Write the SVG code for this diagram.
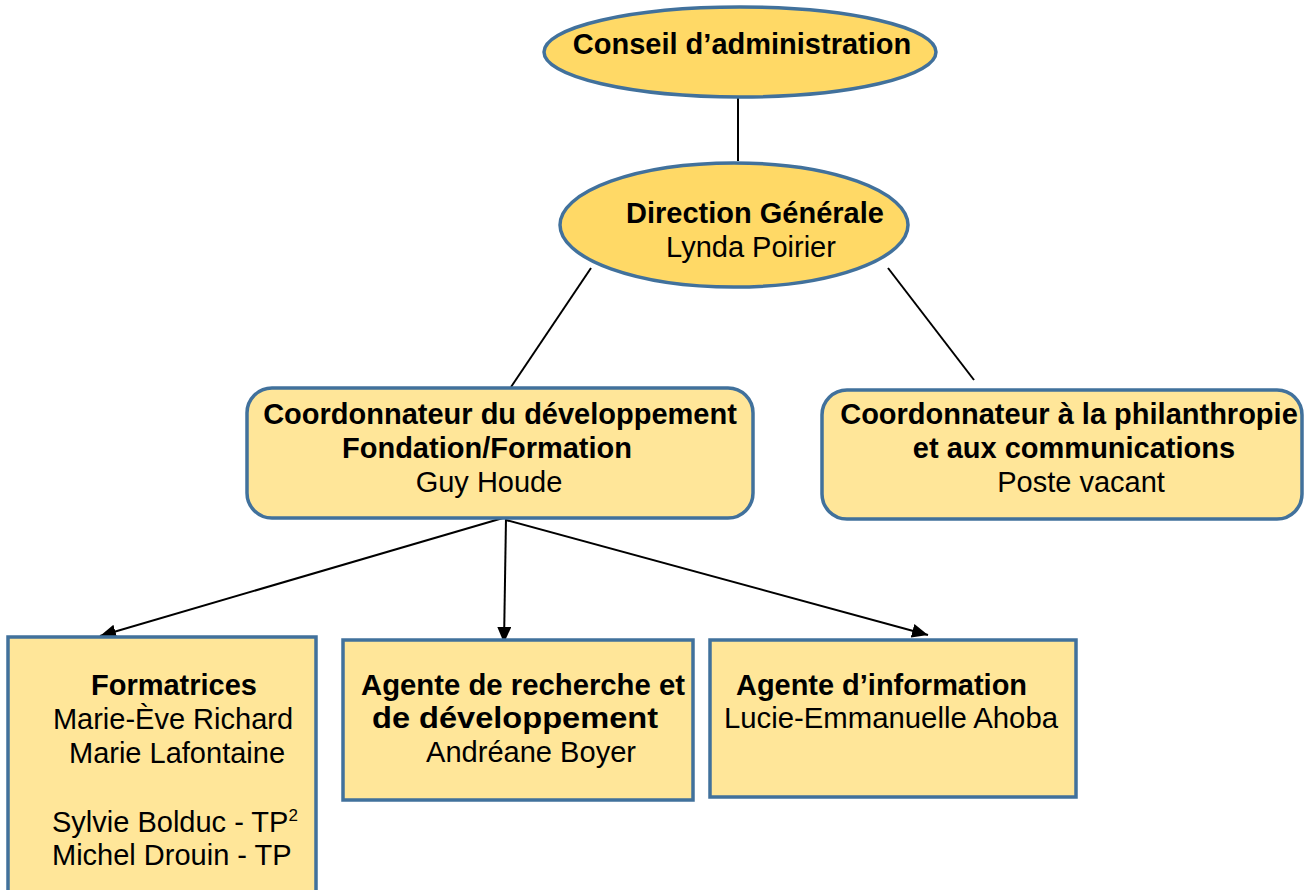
<svg xmlns="http://www.w3.org/2000/svg" width="1306" height="890" viewBox="0 0 1306 890">
<style>
.oval{fill:#FFD966;stroke:#41719C;stroke-width:3.5}
.rbox{fill:#FFE699;stroke:#41719C;stroke-width:3.5}
.sbox{fill:#FFE699;stroke:#41719C;stroke-width:3.5}
.b{font-family:"Liberation Sans",Arial,sans-serif;font-weight:bold;font-size:29px;fill:#000}
.r{font-family:"Liberation Sans",Arial,sans-serif;font-size:29px;fill:#000}
.c{text-anchor:middle}
.ln{stroke:#000;stroke-width:2;fill:none}
</style>
<defs>
<marker id="arr" viewBox="0 0 16 14" refX="16" refY="7" markerWidth="16" markerHeight="14" orient="auto" markerUnits="userSpaceOnUse">
<path d="M0,0 L16,7 L0,14 z" fill="#000"/>
</marker>
</defs>
<g id="connectors">
<line class="ln" x1="738" y1="97" x2="738" y2="161"/>
<line class="ln" x1="591" y1="268" x2="511" y2="387"/>
<line class="ln" x1="888" y1="268" x2="974" y2="380"/>
<line class="ln" x1="503" y1="518" x2="100" y2="636" marker-end="url(#arr)"/>
<line class="ln" x1="506" y1="518" x2="504" y2="643" marker-end="url(#arr)"/>
<line class="ln" x1="506" y1="520" x2="928" y2="635" marker-end="url(#arr)"/>
</g>
<g id="conseil">
<ellipse class="oval" cx="740" cy="52" rx="196" ry="45"/>
<text class="b c" x="742" y="54">Conseil d’administration</text>
</g>
<g id="direction">
<ellipse class="oval" cx="734" cy="225" rx="174" ry="62"/>
<text class="b c" x="755" y="223">Direction Générale</text>
<text class="r c" x="751" y="257">Lynda Poirier</text>
</g>
<g id="coord-dev">
<rect class="rbox" x="247" y="388" width="506" height="130" rx="25"/>
<text class="b c" x="500" y="424">Coordonnateur du développement</text>
<text class="b c" x="487" y="458">Fondation/Formation</text>
<text class="r c" x="489" y="492">Guy Houde</text>
</g>
<g id="coord-phil">
<rect class="rbox" x="822" y="390" width="480" height="129" rx="25"/>
<text class="b c" x="1069" y="424">Coordonnateur à la philanthropie</text>
<text class="b c" x="1074" y="458">et aux communications</text>
<text class="r c" x="1081" y="492">Poste vacant</text>
</g>
<g id="formatrices">
<rect class="sbox" x="8" y="637" width="308" height="270"/>
<text class="b c" x="174" y="695">Formatrices</text>
<text class="r c" x="173" y="729">Marie-Ève Richard</text>
<text class="r c" x="177" y="763">Marie Lafontaine</text>
<text class="r" x="52" y="832">Sylvie Bolduc - TP<tspan font-size="17" dy="-11">2</tspan></text>
<text class="r" x="52" y="865">Michel Drouin - TP</text>
</g>
<g id="agente-rd">
<rect class="sbox" x="343" y="640" width="350" height="160"/>
<text class="b" x="361" y="695" textLength="324" lengthAdjust="spacingAndGlyphs">Agente de recherche et</text>
<text class="b" x="372" y="728" textLength="286" lengthAdjust="spacingAndGlyphs">de développement</text>
<text class="r" x="426" y="762" textLength="210" lengthAdjust="spacingAndGlyphs">Andréane Boyer</text>
</g>
<g id="agente-info">
<rect class="sbox" x="710" y="640" width="366" height="157"/>
<text class="b" x="736" y="695" textLength="291" lengthAdjust="spacingAndGlyphs">Agente d’information</text>
<text class="r" x="724" y="728" textLength="334" lengthAdjust="spacingAndGlyphs">Lucie-Emmanuelle Ahoba</text>
</g>
</svg>
